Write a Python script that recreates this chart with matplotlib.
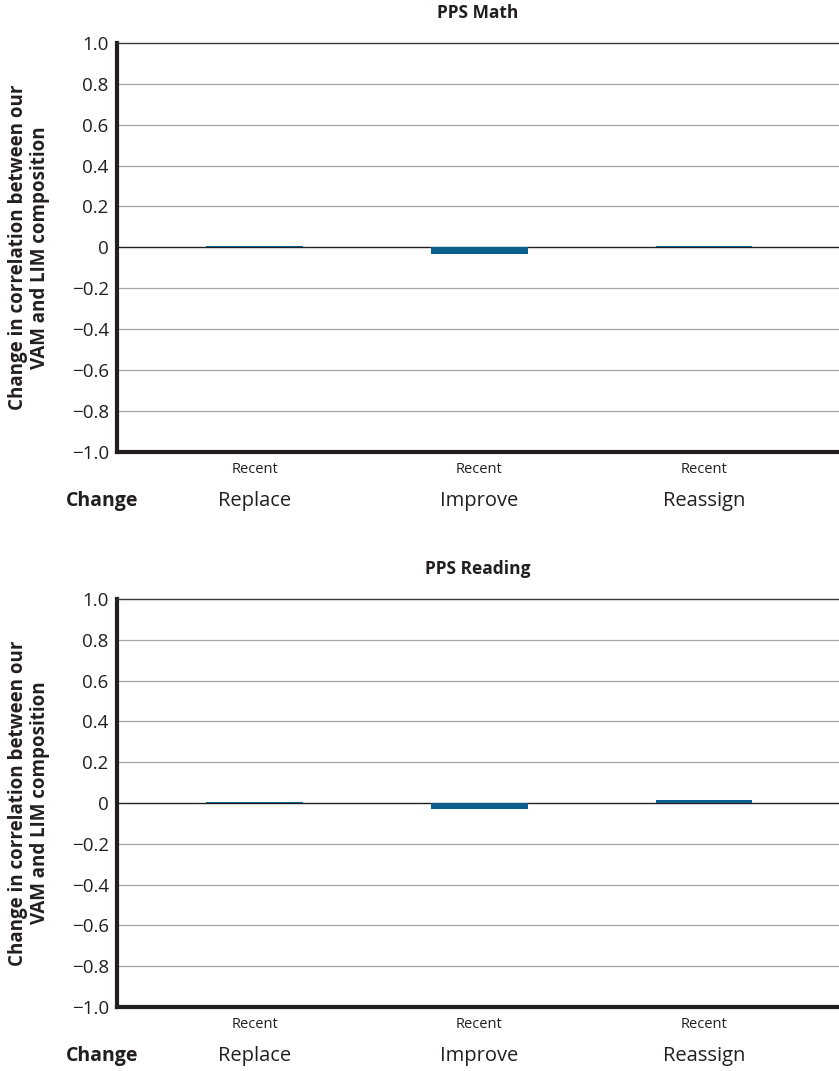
import matplotlib
matplotlib.use('Agg')
import matplotlib.pyplot as plt
import matplotlib.transforms as mtransforms

plt.rcParams['font.family'] = ['Open Sans', 'DejaVu Sans']

categories = ['Replace', 'Improve', 'Reassign']
sub_labels = ['Recent', 'Recent', 'Recent']
panel_titles = ['PPS Math', 'PPS Reading']
math_values = [0.005, -0.03, 0.005]
reading_values = [0.006, -0.03, 0.016]
y_ticks = [-1.0, -0.8, -0.6, -0.4, -0.2, 0, 0.2, 0.4, 0.6, 0.8, 1.0]
y_tick_labels = ['\u22121.0', '\u22120.8', '\u22120.6', '\u22120.4', '\u22120.2', '0',
                 '0.2', '0.4', '0.6', '0.8', '1.0']
ylabel = 'Change in correlation between our\nVAM and LIM composition'

bar_color = '#0a5f8f'
text_color = '#231f20'

fig = plt.figure(figsize=(8.39, 10.71), dpi=100)
positions = [[0.1395, 0.578, 0.8605, 0.382], [0.1395, 0.0598, 0.8605, 0.381]]

for pos, title, values in zip(positions, panel_titles, [math_values, reading_values]):
    ax = fig.add_axes(pos)
    x = range(len(categories))
    ax.bar(x, values, width=0.43, color=bar_color, zorder=5)
    ax.set_xlim(-0.613, 2.6)
    ax.set_ylim(-1.0, 1.0)
    ax.set_yticks(y_ticks)
    ax.set_yticklabels(y_tick_labels, fontsize=13.5, color=text_color)
    ax.set_xticks(list(x))
    ax.set_xticklabels(sub_labels, fontsize=10.5, color=text_color)
    ax.tick_params(axis='both', length=0)
    ax.tick_params(axis='x', pad=7)
    ax.tick_params(axis='y', pad=6)
    for t in y_ticks[1:-1]:
        if t == 0:
            ax.axhline(0, color='#231f20', lw=1.0, zorder=4)
        else:
            ax.axhline(t, color='#a6a6a6', lw=0.9, zorder=1)
    ax.spines['right'].set_visible(False)
    ax.spines['top'].set_color('#3a3a3a')
    ax.spines['top'].set_linewidth(1.0)
    ax.spines['left'].set_linewidth(3.0)
    ax.spines['bottom'].set_linewidth(3.0)
    ax.spines['left'].set_color(text_color)
    ax.spines['bottom'].set_color(text_color)
    ax.set_title(title, fontsize=12.5, fontweight='bold', color=text_color, pad=18)
    ax.set_ylabel(ylabel, fontsize=13.5, fontweight='bold', color=text_color,
                  linespacing=1.1)
    ax.yaxis.set_label_coords(-0.093, 0.5)

    trans = mtransforms.blended_transform_factory(ax.transData, ax.transAxes)
    for i, c in enumerate(categories):
        ax.text(i, -0.12, c, transform=trans, ha='center', va='center',
                fontsize=14.5, color=text_color)
    ax.text(0.029, -0.12, 'Change', transform=ax.transAxes, ha='right', va='center',
            fontsize=14, fontweight='bold', color=text_color)

fig.savefig('out.png', dpi=100)
